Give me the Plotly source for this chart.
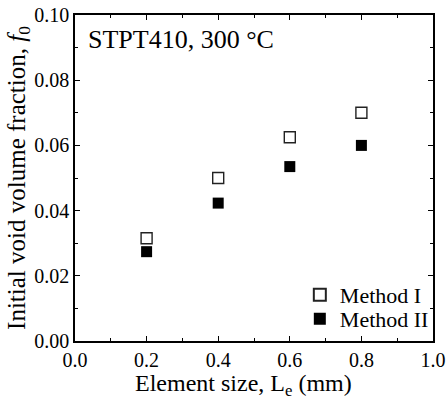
import plotly.graph_objects as go

element_size = [0.2, 0.4, 0.6, 0.8]
method1 = [0.0315, 0.050, 0.0625, 0.070]
method2 = [0.0274, 0.0423, 0.0535, 0.060]
x_ticks = [0.0, 0.2, 0.4, 0.6, 0.8, 1.0]
y_ticks = [0.00, 0.02, 0.04, 0.06, 0.08, 0.10]

FONT = "Liberation Serif, Times New Roman, serif"

fig = go.Figure()
fig.add_trace(go.Scatter(
    x=element_size, y=method1, mode="markers", name="Method I", legend="legend",
    marker=dict(symbol="square-open", size=11, color="#222", line=dict(width=1.4, color="#333"))))
fig.add_trace(go.Scatter(
    x=element_size, y=method2, mode="markers", name="Method II", legend="legend2",
    marker=dict(symbol="square", size=11, color="black")))

axis_common = dict(
    showline=True, linecolor="black", linewidth=1.5, mirror="allticks",
    ticks="inside", ticklen=5, tickwidth=1.2, tickcolor="black",
    showgrid=False, zeroline=False, automargin=False,
    tickfont=dict(family=FONT, size=20, color="black"),
    minor=dict(ticks="inside", ticklen=3, tickwidth=1, tickcolor="black", showgrid=False),
)

fig.update_xaxes(
    range=[0, 1.0], tickvals=x_ticks, ticktext=[f"{v:.1f}" for v in x_ticks],
    minor_dtick=0.1,
    **axis_common)
fig.update_yaxes(
    range=[0, 0.10], tickvals=y_ticks, ticktext=[f"{v:.2f}" for v in y_ticks],
    minor_dtick=0.01,
    title=dict(text="Initial void volume fraction, <i>f</i><sub>0</sub>", font=dict(family=FONT, size=25, color="black"), standoff=2),
    **axis_common)

# x-axis title placed as paper annotation to match reference position
fig.add_annotation(
    x=0.472, y=-0.135, xref="paper", yref="paper", xanchor="center", yanchor="middle",
    text="Element size, L<sub>e</sub> (mm)", showarrow=False, borderpad=0,
    font=dict(family=FONT, size=24, color="black"))

fig.add_annotation(
    x=0.03, y=0.0975, xref="x", yref="y", xanchor="left", yanchor="top",
    text="STPT410, 300 °C", showarrow=False,
    font=dict(family=FONT, size=26, color="black"))

legend_common = dict(xanchor="left", yanchor="middle", x=0.628,
                     bgcolor="rgba(0,0,0,0)", font=dict(family=FONT, size=22, color="black"),
                     itemsizing="constant", itemwidth=30)

fig.update_layout(
    width=448, height=398,
    margin=dict(l=75, r=15, t=15, b=57),
    paper_bgcolor="white", plot_bgcolor="white",
    showlegend=True,
    legend=dict(y=0.141, **legend_common),
    legend2=dict(y=0.0675, **legend_common),
)

fig.write_html("out.html", config={"displayModeBar": False},
               post_script="document.body.style.margin='0';document.body.style.overflow='hidden';")
